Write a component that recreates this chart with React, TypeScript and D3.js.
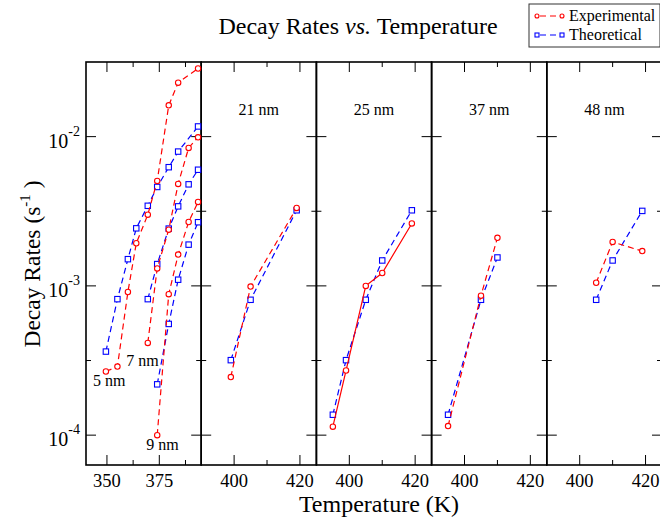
import React from "react";
import * as d3 from "d3";

// panel titles (first panel holds 5, 7 and 9 nm)
const panelNames = ["", "21 nm", "25 nm", "37 nm", "48 nm"];

// 5 nm
const t5 = [349.5, 355, 360, 364, 369.5, 374, 379.5, 384, 393.5];
const exp5 = [2.67e-4, 2.88e-4, 9.1e-4, 1.93e-3, 3.0e-3, 5.05e-3, 1.62e-2, 2.3e-2, 2.86e-2];
const theo5 = [3.63e-4, 8.15e-4, 1.51e-3, 2.43e-3, 3.44e-3, 4.6e-3, 6.24e-3, 7.94e-3, 1.17e-2];
// 7 nm
const t7 = [369.5, 374, 379.5, 384, 389, 393.5];
const exp7 = [4.15e-4, 1.31e-3, 2.38e-3, 4.82e-3, 8.4e-3, 9.9e-3];
const theo7 = [8.15e-4, 1.4e-3, 2.42e-3, 3.41e-3, 4.79e-3, 6.0e-3];
// 9 nm
const t9 = [374, 379.5, 384, 389, 393.5];
const exp9 = [1.0e-4, 8.8e-4, 1.62e-3, 2.68e-3, 3.65e-3];
const theo9 = [2.19e-4, 5.56e-4, 1.1e-3, 1.89e-3, 2.67e-3];
// 21 nm
const t21 = [399, 405, 419];
const exp21 = [2.45e-4, 9.9e-4, 3.33e-3];
const theo21 = [3.18e-4, 8.07e-4, 3.21e-3];
// 25 nm
const t25 = [395, 399, 405, 410, 419];
const exp25 = [1.14e-4, 2.71e-4, 1.0e-3, 1.22e-3, 2.62e-3];
const theo25 = [1.37e-4, 3.18e-4, 8.07e-4, 1.48e-3, 3.21e-3];
// 37 nm
const t37 = [395, 405, 410];
const exp37 = [1.15e-4, 8.6e-4, 2.1e-3];
const theo37 = [1.37e-4, 8.07e-4, 1.55e-3];
// 48 nm
const t48 = [405, 410, 419];
const exp48 = [1.05e-3, 1.97e-3, 1.71e-3];
const theo48 = [8.07e-4, 1.48e-3, 3.18e-3];

const firstTicks = [350, 375];
const firstMinor = [362.5, 387.5];
const otherTicks = [400, 420];
const otherMinor = [410];
const yMajor = [1e-4, 1e-3, 1e-2];
const yMinor = [Math.pow(10, -3.5), Math.pow(10, -2.5)];

const W = 660;
const H = 519;
const left = 86;
const top = 62;
const bottom = 465;
const panelW = 115.2;
const font = "'Liberation Serif', 'Times New Roman', serif";
const RED = "#ff0000";
const BLUE = "#0000ff";

const y = d3.scaleLog().domain([Math.pow(10, -4.2), Math.pow(10, -1.5)]).range([bottom, top]);

const xFor = (i: number) => {
  const x0 = left + i * panelW;
  const dom = i === 0 ? [340, 395] : [390, 425];
  return d3.scaleLinear().domain(dom).range([x0, x0 + panelW]);
};

// [panel, temps, values, color, solid?]
const series: [number, number[], number[], string, boolean][] = [
  [0, t5, theo5, BLUE, false],
  [0, t7, theo7, BLUE, false],
  [0, t9, theo9, BLUE, false],
  [0, t5, exp5, RED, false],
  [0, t7, exp7, RED, false],
  [0, t9, exp9, RED, false],
  [1, t21, theo21, BLUE, false],
  [1, t21, exp21, RED, false],
  [2, t25, theo25, BLUE, false],
  [2, t25, exp25, RED, true],
  [3, t37, theo37, BLUE, false],
  [3, t37, exp37, RED, false],
  [4, t48, theo48, BLUE, false],
  [4, t48, exp48, RED, false],
];

const Marker = ({ cx, cy, color, r = 2.7 }: { cx: number; cy: number; color: string; r?: number }) =>
  color === RED ? (
    <circle cx={cx} cy={cy} r={r} fill="white" stroke={color} strokeWidth={1.1} />
  ) : (
    <rect x={cx - r} y={cy - r} width={2 * r} height={2 * r} fill="white" stroke={color} strokeWidth={1.1} />
  );

const App = () => {
  const panels = panelNames.map((_, i) => i);
  const sizeLabels: [string, number, number, number, number][] = [
    ["5 nm", t5[0], exp5[0], -13, 15],
    ["7 nm", t7[0], exp7[0], -21.5, 23],
    ["9 nm", t9[0], exp9[0], -11, 15],
  ];
  const x0s = xFor(0);

  return (
    <svg width={W} height={H} style={{ position: "absolute", left: 0, top: 0, background: "white" }}>
      <rect width={W} height={H} fill="white" />
      <text x={358} y={34} textAnchor="middle" fontFamily={font} fontSize={24}>
        Decay Rates <tspan fontStyle="italic">vs.</tspan> Temperature
      </text>

      {panels.map((i) => {
        const x = xFor(i);
        const [a, b] = x.range();
        const major = i === 0 ? firstTicks : otherTicks;
        const minor = i === 0 ? firstMinor : otherMinor;
        return (
          <g key={i}>
            {major.map((t) => (
              <g key={t}>
                <line x1={x(t)} x2={x(t)} y1={bottom} y2={bottom - 10} stroke="black" />
                <line x1={x(t)} x2={x(t)} y1={top} y2={top + 10} stroke="black" />
                <text x={x(t)} y={487} textAnchor="middle" fontFamily={font} fontSize={18.5}>
                  {t}
                </text>
              </g>
            ))}
            {minor.map((t) => (
              <g key={t}>
                <line x1={x(t)} x2={x(t)} y1={bottom} y2={bottom - 5} stroke="black" />
                <line x1={x(t)} x2={x(t)} y1={top} y2={top + 5} stroke="black" />
              </g>
            ))}
            {yMajor.map((v) => (
              <g key={v}>
                <line x1={a} x2={a + 10} y1={y(v)} y2={y(v)} stroke="black" />
                <line x1={b} x2={b - 10} y1={y(v)} y2={y(v)} stroke="black" />
              </g>
            ))}
            {yMinor.map((v) => (
              <g key={v}>
                <line x1={a} x2={a + 5} y1={y(v)} y2={y(v)} stroke="black" />
                <line x1={b} x2={b - 5} y1={y(v)} y2={y(v)} stroke="black" />
              </g>
            ))}
            <rect x={a} y={top} width={b - a} height={bottom - top} fill="none" stroke="black" strokeWidth={1.6} />
            {panelNames[i] && (
              <text x={(a + b) / 2} y={115} textAnchor="middle" fontFamily={font} fontSize={16}>
                {panelNames[i]}
              </text>
            )}
          </g>
        );
      })}

      {series.map(([p, ts, vs, color, solid], k) => {
        const x = xFor(p);
        const pts: [number, number][] = ts.map((t, j) => [x(t), y(vs[j])]);
        const line = d3.line();
        return (
          <g key={k}>
            <path
              d={line(pts) || ""}
              fill="none"
              stroke={color}
              strokeWidth={1.2}
              strokeDasharray={solid ? undefined : "6,4"}
            />
            {pts.map(([cx, cy], j) => (
              <Marker key={j} cx={cx} cy={cy} color={color} />
            ))}
          </g>
        );
      })}

      {sizeLabels.map(([s, t, v, dx, dy]) => (
        <text key={s} x={x0s(t) + dx} y={y(v) + dy} fontFamily={font} fontSize={16}>
          {s}
        </text>
      ))}

      {yMajor.map((v) => (
        <text key={v} x={80} y={y(v) + 11} textAnchor="end" fontFamily={font} fontSize={20}>
          10
          <tspan dy={-12} fontSize={14}>
            {"-" + Math.round(-Math.log10(v))}
          </tspan>
        </text>
      ))}

      <text x={379} y={512} textAnchor="middle" fontFamily={font} fontSize={24}>
        Temperature (K)
      </text>
      <text
        transform="translate(40,264) rotate(-90)"
        textAnchor="middle"
        fontFamily={font}
        fontSize={23.5}
      >
        Decay Rates (s
        <tspan dy={-10} fontSize={15}>
          -1
        </tspan>
        <tspan dy={10}> )</tspan>
      </text>

      {/* legend */}
      <g>
        <rect x={529} y={4} width={131} height={43} fill="white" stroke="#333" strokeWidth={1} />
        {[
          ["Experimental", RED, 16],
          ["Theoretical", BLUE, 35],
        ].map(([label, color, ly]) => (
          <g key={label as string}>
            <line x1={537} x2={562} y1={ly as number} y2={ly as number} stroke={color as string} strokeWidth={1.2} strokeDasharray="6,4" strokeDashoffset={-3} />
            <Marker cx={537} cy={ly as number} color={color as string} r={2} />
            <Marker cx={562} cy={ly as number} color={color as string} r={2} />
            <text x={569} y={(ly as number) + 5} fontFamily={font} fontSize={16}>
              {label}
            </text>
          </g>
        ))}
      </g>
    </svg>
  );
};

export default App;
